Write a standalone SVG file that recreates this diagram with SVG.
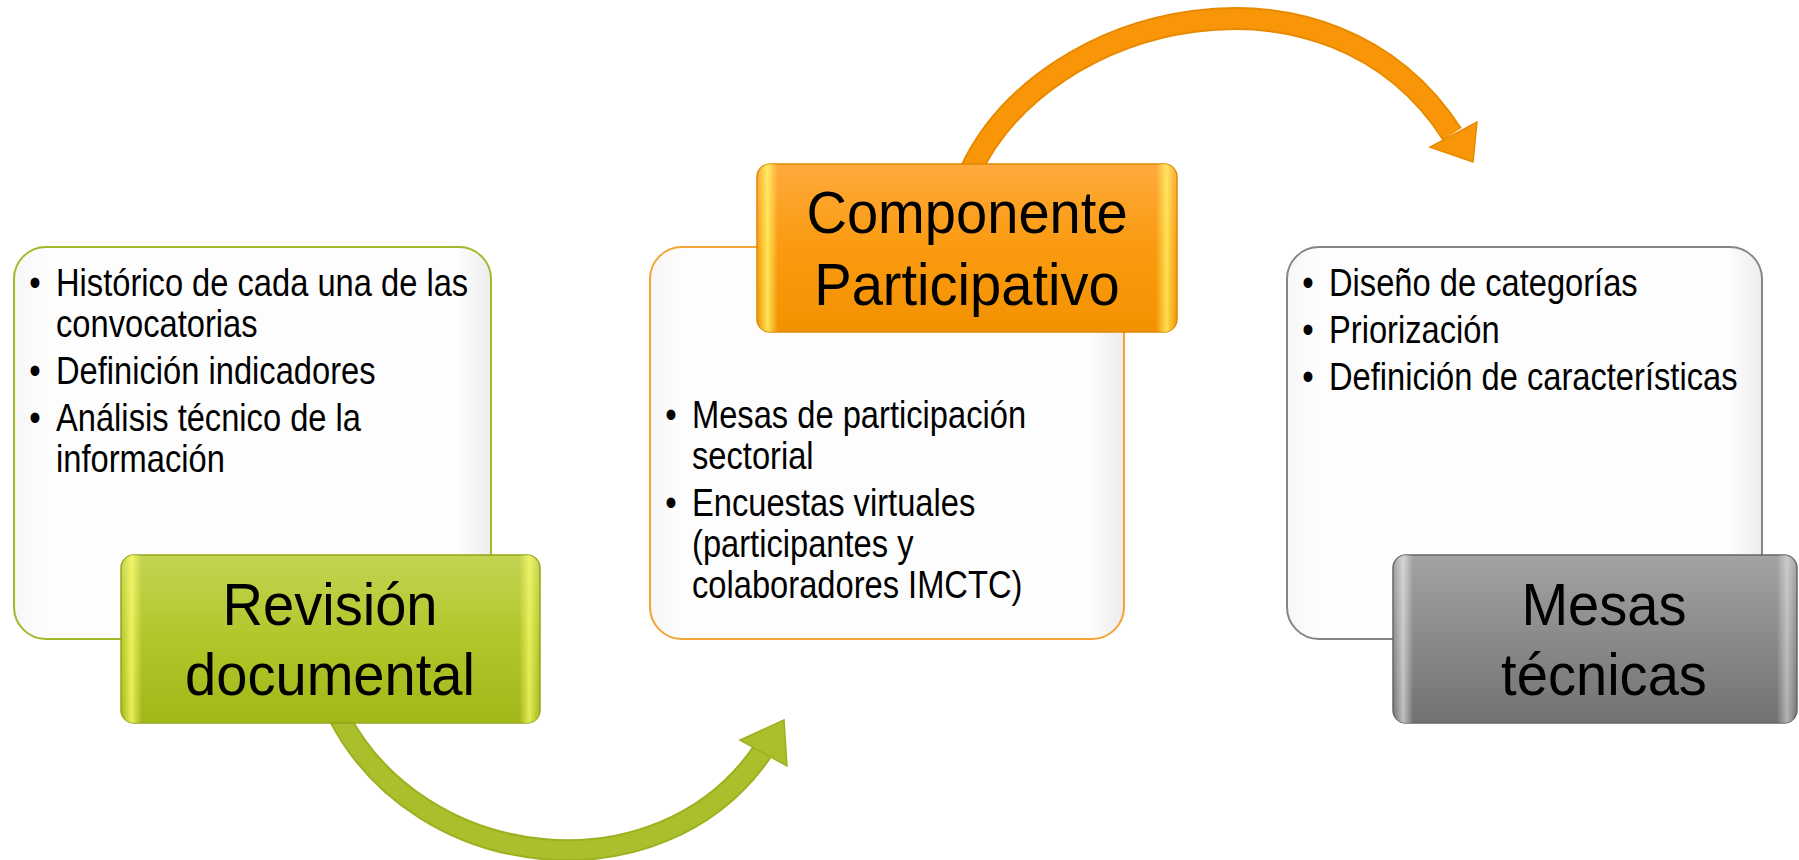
<svg xmlns="http://www.w3.org/2000/svg" width="1799" height="860" viewBox="0 0 1799 860">
<defs>
<style>
.box{stroke-width:2}
.body{font-family:"Liberation Sans",Arial,sans-serif;font-size:38px;fill:#000}
.lbl{font-family:"Liberation Sans",Arial,sans-serif;font-size:60px;fill:#000;text-anchor:middle}
.shaft{fill:none;stroke-linecap:butt}
</style>
<linearGradient id="gWhite" x1="0" y1="0" x2="1" y2="0">
<stop offset="0" stop-color="#f6f6f6"/>
<stop offset="0.06" stop-color="#fdfdfd"/>
<stop offset="0.93" stop-color="#fdfdfd"/>
<stop offset="1" stop-color="#ececec"/>
</linearGradient>
<linearGradient id="gGreen" x1="0" y1="0" x2="0" y2="1">
<stop offset="0" stop-color="#c3d452"/>
<stop offset="0.5" stop-color="#b2c62a"/>
<stop offset="1" stop-color="#a2b718"/>
</linearGradient>
<linearGradient id="gOrange" x1="0" y1="0" x2="0" y2="1">
<stop offset="0" stop-color="#ffaa3c"/>
<stop offset="0.5" stop-color="#fa9a10"/>
<stop offset="1" stop-color="#f39200"/>
</linearGradient>
<linearGradient id="gGray" x1="0" y1="0" x2="0" y2="1">
<stop offset="0" stop-color="#a3a3a3"/>
<stop offset="0.5" stop-color="#8a8a8a"/>
<stop offset="1" stop-color="#727272"/>
</linearGradient>
<linearGradient id="gEdgeY" x1="0" y1="0" x2="1" y2="0">
<stop offset="0" stop-color="#ffff70" stop-opacity="0"/>
<stop offset="0.025" stop-color="#ffff70" stop-opacity="0.75"/>
<stop offset="0.05" stop-color="#ffff70" stop-opacity="0"/>
<stop offset="0.95" stop-color="#ffff70" stop-opacity="0"/>
<stop offset="0.975" stop-color="#ffff70" stop-opacity="0.7"/>
<stop offset="1" stop-color="#ffff70" stop-opacity="0"/>
</linearGradient>
<linearGradient id="gEdgeW" x1="0" y1="0" x2="1" y2="0">
<stop offset="0" stop-color="#ffffff" stop-opacity="0"/>
<stop offset="0.025" stop-color="#ffffff" stop-opacity="0.55"/>
<stop offset="0.05" stop-color="#ffffff" stop-opacity="0"/>
<stop offset="0.95" stop-color="#ffffff" stop-opacity="0"/>
<stop offset="0.975" stop-color="#ffffff" stop-opacity="0.45"/>
<stop offset="1" stop-color="#ffffff" stop-opacity="0"/>
</linearGradient>
</defs>
<rect width="1799" height="860" fill="#ffffff"/>

<g id="connectors">
<g id="arrow-green">
<path class="shaft" d="M 338 715 C 420 875, 660 900, 762 752" stroke="#9cb020" stroke-width="22"/>
<path class="shaft" d="M 338 715 C 420 875, 660 900, 762 752" stroke="#abbf2c" stroke-width="18"/>
<polygon points="784,720 740,740 787,766" fill="#abbf2c" stroke="#9cb020" stroke-width="1.5" stroke-linejoin="miter"/>
</g>
<g id="arrow-orange">
<path class="shaft" d="M 970 172 C 1045 10, 1330 -55, 1452 134" stroke="#e88a00" stroke-width="23"/>
<path class="shaft" d="M 970 172 C 1045 10, 1330 -55, 1452 134" stroke="#f89608" stroke-width="19"/>
<polygon points="1473,162 1477,122 1430,147" fill="#f89608" stroke="#e88a00" stroke-width="1.5"/>
</g>
</g>

<g id="node-revision">
<rect class="box" x="14" y="247" width="477" height="392" rx="32" fill="url(#gWhite)" stroke="#a3b72b"/>
<g transform="translate(56 0) scale(0.86 1)" class="body">
<text x="-31" y="296">•</text><text x="0" y="296">Histórico de cada una de las</text>
<text x="0" y="337">convocatorias</text>
<text x="-31" y="384">•</text><text x="0" y="384">Definición indicadores</text>
<text x="-31" y="431">•</text><text x="0" y="431">Análisis técnico de la</text>
<text x="0" y="472">información</text>
</g>
<rect x="121" y="555" width="419" height="168" rx="13" fill="url(#gGreen)" stroke="#93a61a" stroke-width="1.5"/>
<rect x="121" y="555" width="419" height="168" rx="13" fill="url(#gEdgeY)"/>
<g transform="translate(330 0) scale(0.935 1)" class="lbl">
<text x="0" y="625">Revisión</text>
<text x="0" y="695">documental</text>
</g>
</g>

<g id="node-componente">
<rect class="box" x="650" y="247" width="474" height="392" rx="32" fill="url(#gWhite)" stroke="#f2a535"/>
<g transform="translate(692 0) scale(0.86 1)" class="body">
<text x="-31" y="428">•</text><text x="0" y="428">Mesas de participación</text>
<text x="0" y="469">sectorial</text>
<text x="-31" y="516">•</text><text x="0" y="516">Encuestas virtuales</text>
<text x="0" y="557">(participantes y</text>
<text x="0" y="598">colaboradores IMCTC)</text>
</g>
<rect x="757" y="164" width="420" height="168" rx="13" fill="url(#gOrange)" stroke="#e08600" stroke-width="1.5"/>
<rect x="757" y="164" width="420" height="168" rx="13" fill="url(#gEdgeY)"/>
<g transform="translate(967 0) scale(0.935 1)" class="lbl">
<text x="0" y="233">Componente</text>
<text x="0" y="305">Participativo</text>
</g>
</g>

<g id="node-mesas">
<rect class="box" x="1287" y="247" width="475" height="392" rx="32" fill="url(#gWhite)" stroke="#858585"/>
<g transform="translate(1329 0) scale(0.86 1)" class="body">
<text x="-31" y="296">•</text><text x="0" y="296">Diseño de categorías</text>
<text x="-31" y="343">•</text><text x="0" y="343">Priorización</text>
<text x="-31" y="390">•</text><text x="0" y="390">Definición de características</text>
</g>
<rect x="1393" y="555" width="404" height="168" rx="13" fill="url(#gGray)" stroke="#666666" stroke-width="1.5"/>
<rect x="1393" y="555" width="404" height="168" rx="13" fill="url(#gEdgeW)"/>
<g transform="translate(1604 0) scale(0.935 1)" class="lbl">
<text x="0" y="625">Mesas</text>
<text x="0" y="695">técnicas</text>
</g>
</g>
</svg>
